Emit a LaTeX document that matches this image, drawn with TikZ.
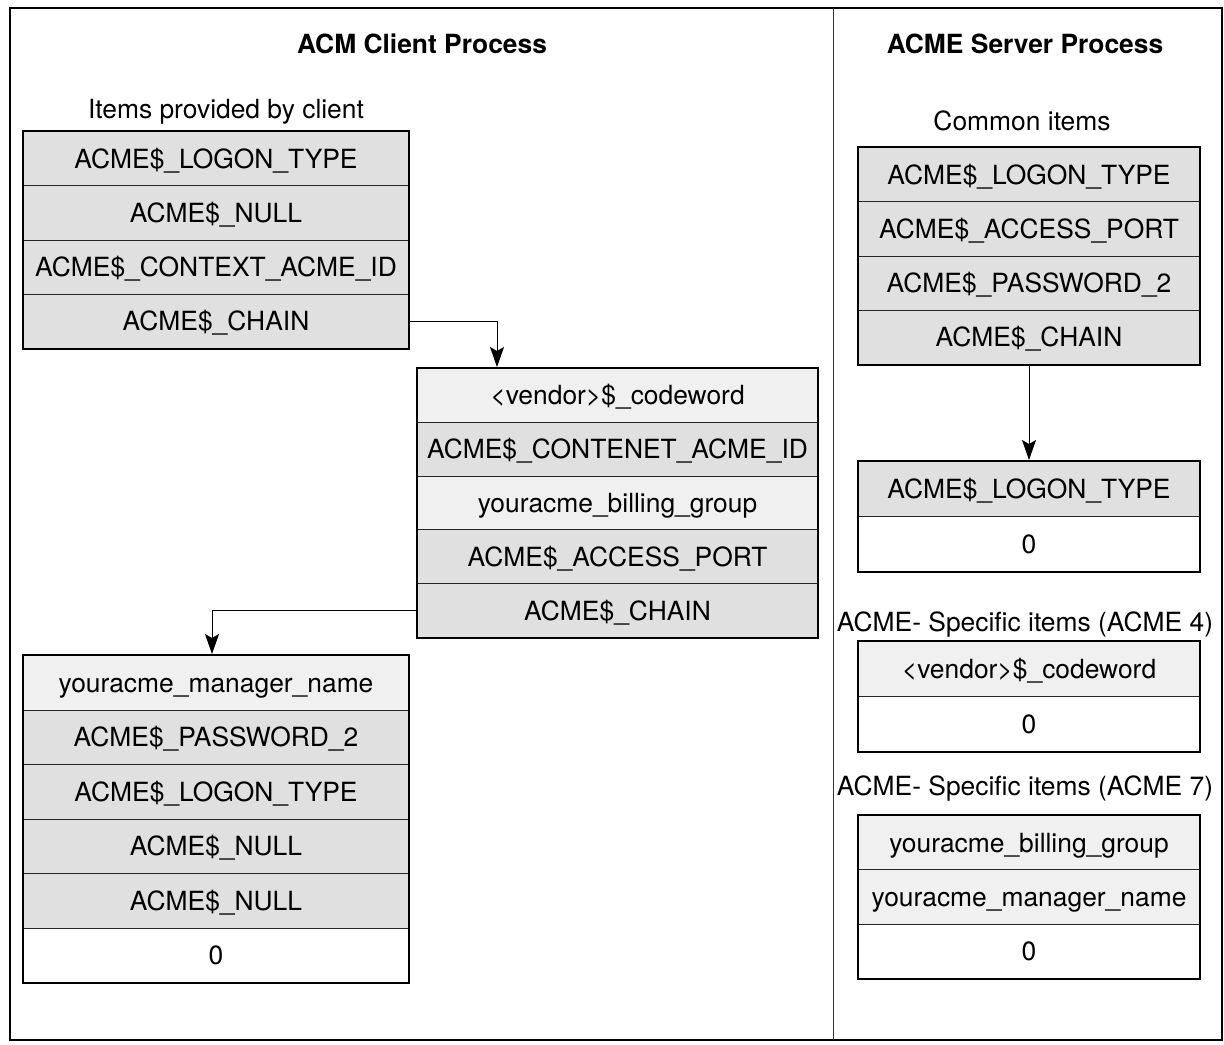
\documentclass[tikz,border=0pt]{standalone}
\usepackage{fontspec}
\setmainfont{TeX Gyre Heros}
\usetikzlibrary{arrows.meta,fit}
\definecolor{cellgray}{RGB}{224,224,224}
\definecolor{celllight}{RGB}{240,240,240}
\begin{document}
\begin{tikzpicture}[x=0.5pt,y=-0.5pt,
  lbl/.style={font=\fontsize{13.2}{15.8}\selectfont, inner sep=0pt, anchor=base},
  ttl/.style={font=\fontsize{13.2}{15.8}\selectfont\bfseries, inner sep=0pt, anchor=base},
  cell/.style={draw=black!85, line width=0.5pt, inner sep=0pt, anchor=north west,
    text height=9.5pt, text depth=0pt, font=\fontsize{13.2}{15.8}\selectfont},
  dk/.style={cell, fill=cellgray},
  lt/.style={cell, fill=celllight},
  wh/.style={cell, fill=white},
  lw/.style={minimum width=192.5pt},
  mw/.style={minimum width=200pt},
  rw/.style={minimum width=170.5pt},
  boxframe/.style={draw=black, line width=1pt, inner sep=0pt},
  conn/.style={line width=0.5pt, -{Stealth[length=10pt,width=7pt,inset=2pt]}}
]
\useasboundingbox (0,0) rectangle (1224,1044);
% outer frame and divider
\draw[line width=1pt] (10,8) rectangle (1222,1040);
\draw[line width=0.5pt, black!80] (833,8) -- (833,1040);

% titles
\node[ttl] (t1) at (422,53) {ACM Client Process};
\node[ttl] (t2) at (1025,53) {ACME Server Process};
\node[lbl] (h1) at (226,118) {Items provided by client};
\node[lbl] (h2) at (1022,130) {Common items};
\node[lbl] (h3) at (1025,631) {ACME- Specific items (ACME 4)};
\node[lbl] (h4) at (1025,795) {ACME- Specific items (ACME 7)};

% left box 1
\node[dk,lw,minimum height=27.125pt] (L1) at (23,131) {ACME\$\_LOGON\_TYPE};
\node[dk,lw,minimum height=27.125pt] (L2) at (23,185.25) {ACME\$\_NULL};
\node[dk,lw,minimum height=27.125pt] (L3) at (23,239.5) {ACME\$\_CONTEXT\_ACME\_ID};
\node[dk,lw,minimum height=27.125pt] (L4) at (23,293.75) {ACME\$\_CHAIN};
\node[boxframe, fit=(L1)(L4)] (LF) {};

% middle box
\node[lt,mw,minimum height=26.9pt] (M1) at (417,368) {<vendor>\$\_codeword};
\node[dk,mw,minimum height=26.9pt] (M2) at (417,421.8) {ACME\$\_CONTENET\_ACME\_ID};
\node[lt,mw,minimum height=26.9pt] (M3) at (417,475.6) {youracme\_billing\_group};
\node[dk,mw,minimum height=26.9pt] (M4) at (417,529.4) {ACME\$\_ACCESS\_PORT};
\node[dk,mw,minimum height=26.9pt] (M5) at (417,583.2) {ACME\$\_CHAIN};
\node[boxframe, fit=(M1)(M5)] (MF) {};

% bottom left box
\node[lt,lw,minimum height=27.25pt] (B1) at (23,655) {youracme\_manager\_name};
\node[dk,lw,minimum height=27.25pt] (B2) at (23,709.5) {ACME\$\_PASSWORD\_2};
\node[dk,lw,minimum height=27.25pt] (B3) at (23,764) {ACME\$\_LOGON\_TYPE};
\node[dk,lw,minimum height=27.25pt] (B4) at (23,818.5) {ACME\$\_NULL};
\node[dk,lw,minimum height=27.25pt] (B5) at (23,873) {ACME\$\_NULL};
\node[wh,lw,minimum height=27.25pt] (B6) at (23,927.5) {0};
\node[boxframe, fit=(B1)(B6)] (BF) {};

% right box 1
\node[dk,rw,minimum height=27.125pt] (R1) at (858,147) {ACME\$\_LOGON\_TYPE};
\node[dk,rw,minimum height=27.125pt] (R2) at (858,201.25) {ACME\$\_ACCESS\_PORT};
\node[dk,rw,minimum height=27.125pt] (R3) at (858,255.5) {ACME\$\_PASSWORD\_2};
\node[dk,rw,minimum height=27.125pt] (R4) at (858,309.75) {ACME\$\_CHAIN};
\node[boxframe, fit=(R1)(R4)] (RF) {};

% right box 2
\node[dk,rw,minimum height=27.5pt] (S1) at (858,461) {ACME\$\_LOGON\_TYPE};
\node[wh,rw,minimum height=27.5pt] (S2) at (858,516) {0};
\node[boxframe, fit=(S1)(S2)] (SF) {};

% right box 3
\node[lt,rw,minimum height=27.5pt] (T1) at (858,641) {<vendor>\$\_codeword};
\node[wh,rw,minimum height=27.5pt] (T2) at (858,696) {0};
\node[boxframe, fit=(T1)(T2)] (TF) {};

% right box 4
\node[lt,rw,minimum height=27.15pt] (U1) at (858,815) {youracme\_billing\_group};
\node[lt,rw,minimum height=27.15pt] (U2) at (858,869.3) {youracme\_manager\_name};
\node[wh,rw,minimum height=27.15pt] (U3) at (858,923.6) {0};
\node[boxframe, fit=(U1)(U3)] (UF) {};

% connectors
\draw[conn] (L4.east) -| ([xshift=40.5pt]MF.north west);
\draw[conn] (M5.west) -| ([xshift=95pt]BF.north west);
\draw[conn] (RF.south) -- (SF.north);
\end{tikzpicture}
\end{document}
